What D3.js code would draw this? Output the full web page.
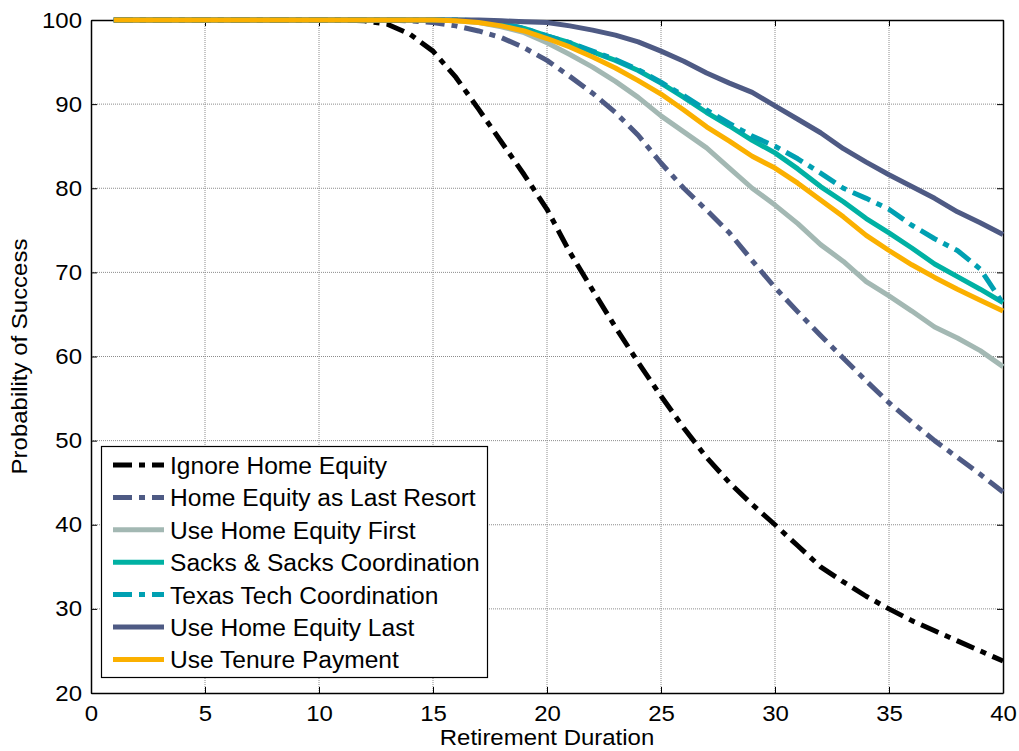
<!DOCTYPE html>
<html><head><meta charset="utf-8">
<script src="https://cdn.jsdelivr.net/npm/d3@7"></script>
<style>body{margin:0;background:#fff}svg{display:block}text{font-family:"Liberation Sans",Arial,sans-serif}</style>
</head><body><svg id="c" width="1019" height="751"></svg>
<script>
const years = d3.range(1, 41);
const xTicks = [0,5,10,15,20,25,30,35,40];
const yTicks = [20,30,40,50,60,70,80,90,100];
const seriesNames = ["Ignore Home Equity","Home Equity as Last Resort","Use Home Equity First","Sacks & Sacks Coordination","Texas Tech Coordination","Use Home Equity Last","Use Tenure Payment"];
const ignoreHE   = [100,100,100,100,100,100,100,100,100,100,100,99.9,99.5,98.3,96.3,93.2,89.4,85.5,81.6,77.5,72.4,67.9,63.5,59.3,55.3,51.5,48.0,45.0,42.4,40.0,37.5,35.0,33.2,31.5,30.0,28.6,27.4,26.2,25.0,23.8];
const lastResort = [100,100,100,100,100,100,100,100,100,100,100,100,100,99.9,99.7,99.3,98.7,97.9,96.7,95.2,93.3,91.3,89.0,86.3,83.0,80.0,77.4,74.7,71.4,68.2,65.3,62.5,59.8,57.1,54.5,52.2,50.0,48.0,46.0,43.9];
const heFirst    = [100,100,100,100,100,100,100,100,100,100,100,100,100,100,100,99.9,99.7,99.2,98.5,97.3,95.9,94.4,92.7,90.8,88.6,86.7,84.8,82.4,80.0,78.0,75.8,73.3,71.3,68.9,67.2,65.4,63.5,62.2,60.7,58.8];
const sacks      = [100,100,100,100,100,100,100,100,100,100,100,100,100,100,100,100,99.9,99.6,99.0,98.1,97.3,96.2,95.2,94.0,92.5,90.8,89.0,87.4,85.7,84.2,82.3,80.2,78.4,76.4,74.7,72.9,71.0,69.5,68.0,66.4];
const texas      = [100,100,100,100,100,100,100,100,100,100,100,100,100,100,100,100,99.9,99.6,99.0,98.1,97.3,96.3,95.3,94.1,92.6,91.0,89.3,87.7,86.2,85.0,83.5,81.8,80.0,78.8,77.5,75.6,74.0,72.6,70.4,66.3];
const heLast     = [100,100,100,100,100,100,100,100,100,100,100,100,100,100,100,100,100,99.9,99.8,99.7,99.3,98.8,98.2,97.4,96.3,95.1,93.7,92.5,91.4,89.8,88.2,86.6,84.7,83.1,81.6,80.2,78.8,77.2,75.9,74.5];
const tenure     = [100,100,100,100,100,100,100,100,100,100,100,100,100,100,100,99.9,99.7,99.3,98.7,97.8,96.8,95.6,94.3,92.8,91.2,89.3,87.3,85.6,83.8,82.4,80.6,78.6,76.6,74.4,72.6,70.9,69.4,68.0,66.7,65.4];

const seriesValues = [ignoreHE,lastResort,heFirst,sacks,texas,heLast,tenure];
const colors = ["#000000","#4e5a84","#a3b8b3","#00b1a3","#00a0b2","#4e5a84","#fbb000"];
const dashes = ["19,7,6,7","19,7,6,7",null,null,"19,7,6,7",null,null];

const SX = 1.09; // horizontal stretch of the reference text
const svg = d3.select("#c");
const L=91, R=1003, T=20, B=693;
const x = d3.scaleLinear().domain([0,40]).range([L,R]);
const y = d3.scaleLinear().domain([20,100]).range([B,T]);

// grid
const g = svg.append("g");
g.selectAll("line.gx").data(xTicks.slice(1,-1)).join("line")
  .attr("x1",d=>x(d)).attr("x2",d=>x(d)).attr("y1",T).attr("y2",B)
  .attr("stroke","#8c8c8c").attr("stroke-width",1).attr("stroke-dasharray","1,1");
g.selectAll("line.gy").data(yTicks.slice(1,-1)).join("line")
  .attr("y1",d=>y(d)).attr("y2",d=>y(d)).attr("x1",L).attr("x2",R)
  .attr("stroke","#8c8c8c").attr("stroke-width",1).attr("stroke-dasharray","1,1");

// axes with inside ticks
const fmt = d3.format("d");
const ax = (gen, tr) => {
  const a = svg.append("g").attr("transform",tr).call(gen);
  a.select(".domain").attr("stroke","#000").attr("stroke-width",1.5);
  a.selectAll("text").attr("font-size","22px").attr("fill","#000").style("font-family","'Liberation Sans',Arial,sans-serif");
  return a;
};
const xa = ax(d3.axisBottom(x).tickValues(xTicks).tickFormat(fmt).tickSizeInner(-6).tickSizeOuter(0).tickPadding(12), `translate(0,${B})`);
xa.selectAll("text").attr("transform",`scale(${SX},1)`);
const ya = ax(d3.axisLeft(y).tickValues(yTicks).tickFormat(fmt).tickSizeInner(-6).tickSizeOuter(0).tickPadding(9), `translate(${L},0)`);
ya.selectAll("text").attr("x",-9/SX).attr("transform",`scale(${SX},1)`);
ax(d3.axisTop(x).tickValues(xTicks).tickFormat("").tickSizeInner(-6).tickSizeOuter(0), `translate(0,${T})`);
ax(d3.axisRight(y).tickValues(yTicks).tickFormat("").tickSizeInner(-6).tickSizeOuter(0), `translate(${R},0)`);

// lines
const line = d3.line().x((d,i)=>x(years[i])).y(d=>y(d));
seriesValues.forEach((vals,i)=>{
  svg.append("path").datum(vals).attr("d",line).attr("fill","none")
    .attr("stroke",colors[i]).attr("stroke-width",5)
    .attr("stroke-dasharray",dashes[i]).attr("stroke-linejoin","round");
});

// axis titles
svg.append("text").attr("transform",`translate(${(L+R)/2},745) scale(${SX},1)`).attr("text-anchor","middle")
  .attr("font-size","22px").text("Retirement Duration");
svg.append("text").attr("transform",`translate(27,${(T+B)/2}) rotate(-90) scale(${SX},1)`).attr("text-anchor","middle")
  .attr("font-size","22px").text("Probability of Success");

// legend
const lg = svg.append("g");
lg.append("rect").attr("x",101.5).attr("y",446.5).attr("width",386).attr("height",231)
  .attr("fill","#fff").attr("stroke","#000").attr("stroke-width",1.2);
seriesNames.forEach((n,i)=>{
  const yy = 465 + i*32.4;
  lg.append("line").attr("x1",113).attr("x2",164).attr("y1",yy).attr("y2",yy)
    .attr("stroke",colors[i]).attr("stroke-width",5).attr("stroke-dasharray",dashes[i]);
  lg.append("text").attr("transform",`translate(170,${yy+9}) scale(${SX*0.98},1)`).attr("font-size","23px").attr("fill","#000").text(n);
});
</script></body></html>
